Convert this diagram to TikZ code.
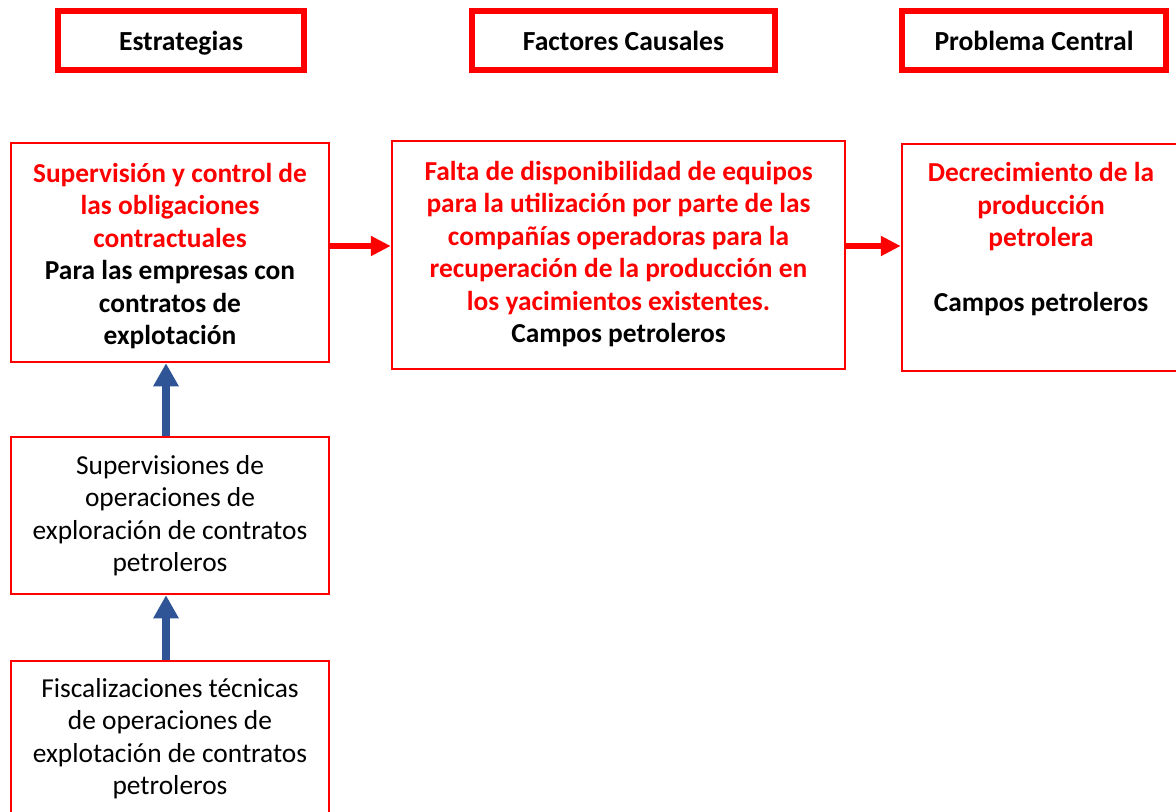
\documentclass[tikz,border=0pt]{standalone}
\usepackage{fontspec}
\setmainfont{Carlito}
\usetikzlibrary{positioning, arrows.meta}

\definecolor{flujoazul}{RGB}{47,85,151}

\begin{document}
\begin{tikzpicture}[
            x=0.5pt, y=-0.5pt,
            header/.style={draw=red, line width=3.2pt, inner sep=0pt, align=center, text height=12pt, text depth=1.5pt, font=\fontsize{13.8}{16.25}\selectfont\bfseries},
            caja/.style={draw=red, line width=1.25pt, inner sep=0pt, align=center, font=\fontsize{13.7}{16.25}\selectfont},
            rojoarrow/.style={-{Triangle[width=9.5pt, length=10pt]}, red, line width=3.2pt},
            azularrow/.style={-{Triangle[width=12pt, length=11.5pt]}, flujoazul, line width=4pt}
        ]

            \useasboundingbox (0,0) rectangle (1176,812);

            % Encabezados
            \node[header, minimum width=123pt, minimum height=29.5pt] (estr) at (181,40.5) {Estrategias};
            \node[header, minimum width=151.5pt, minimum height=29.5pt] (fact) at (623.5,40.5) {Factores Causales};
            \node[header, minimum width=132pt, minimum height=29.5pt] (prob) at (1034,40.5) {Problema Central};

            % Fila principal
            \node[caja, minimum width=159pt, minimum height=109.5pt, text=red, font=\fontsize{13.7}{16.25}\selectfont\bfseries] (superv) at (170,252.5)
                {Supervisión y control de\\las obligaciones\\contractuales\\\textcolor{black}{Para las empresas con}\\\textcolor{black}{contratos de}\\\textcolor{black}{explotación}\\[-17.5pt]\mbox{}};
            \node[caja, minimum width=226.5pt, minimum height=114pt, text=red, font=\fontsize{13.7}{16.25}\selectfont\bfseries] (falta) at (618.5,255)
                {Falta de disponibilidad de equipos\\para la utilización por parte de las\\compañías operadoras para la\\recuperación de la producción en\\los yacimientos existentes.\\\textcolor{black}{Campos petroleros}\\[-13pt]\mbox{}};
            \node[caja, minimum width=139pt, minimum height=113.5pt, text=red, font=\fontsize{13.7}{16.25}\selectfont\bfseries] (decrec) at (1041,257.5)
                {Decrecimiento de la\\producción\\petrolera\\ \\\textcolor{black}{Campos petroleros}\\[4pt]\mbox{}};

            % Columna de estrategias
            \node[caja, minimum width=159pt, minimum height=78.5pt] (supop) at (170,515.5)
                {Supervisiones de\\operaciones de\\exploración de contratos\\petroleros};
            \node[caja, minimum width=159pt, minimum height=77.5pt] (fisc) at (170,738.5)
                {Fiscalizaciones técnicas\\de operaciones de\\explotación de contratos\\petroleros};

            % Flechas rojas
            \draw[rojoarrow] ([yshift=3.25pt]superv.east) -- ([yshift=3.25pt]superv.east -| falta.west);
            \draw[rojoarrow] ([yshift=4.5pt]falta.east) -- ([yshift=4.5pt]falta.east -| decrec.west);

            % Flechas azules
            \draw[azularrow] ([xshift=-2pt]supop.north) -- ([xshift=-2pt]superv.south);
            \draw[azularrow] ([xshift=-2pt]fisc.north) -- ([xshift=-2pt]supop.south);

        \end{tikzpicture}
\end{document}
